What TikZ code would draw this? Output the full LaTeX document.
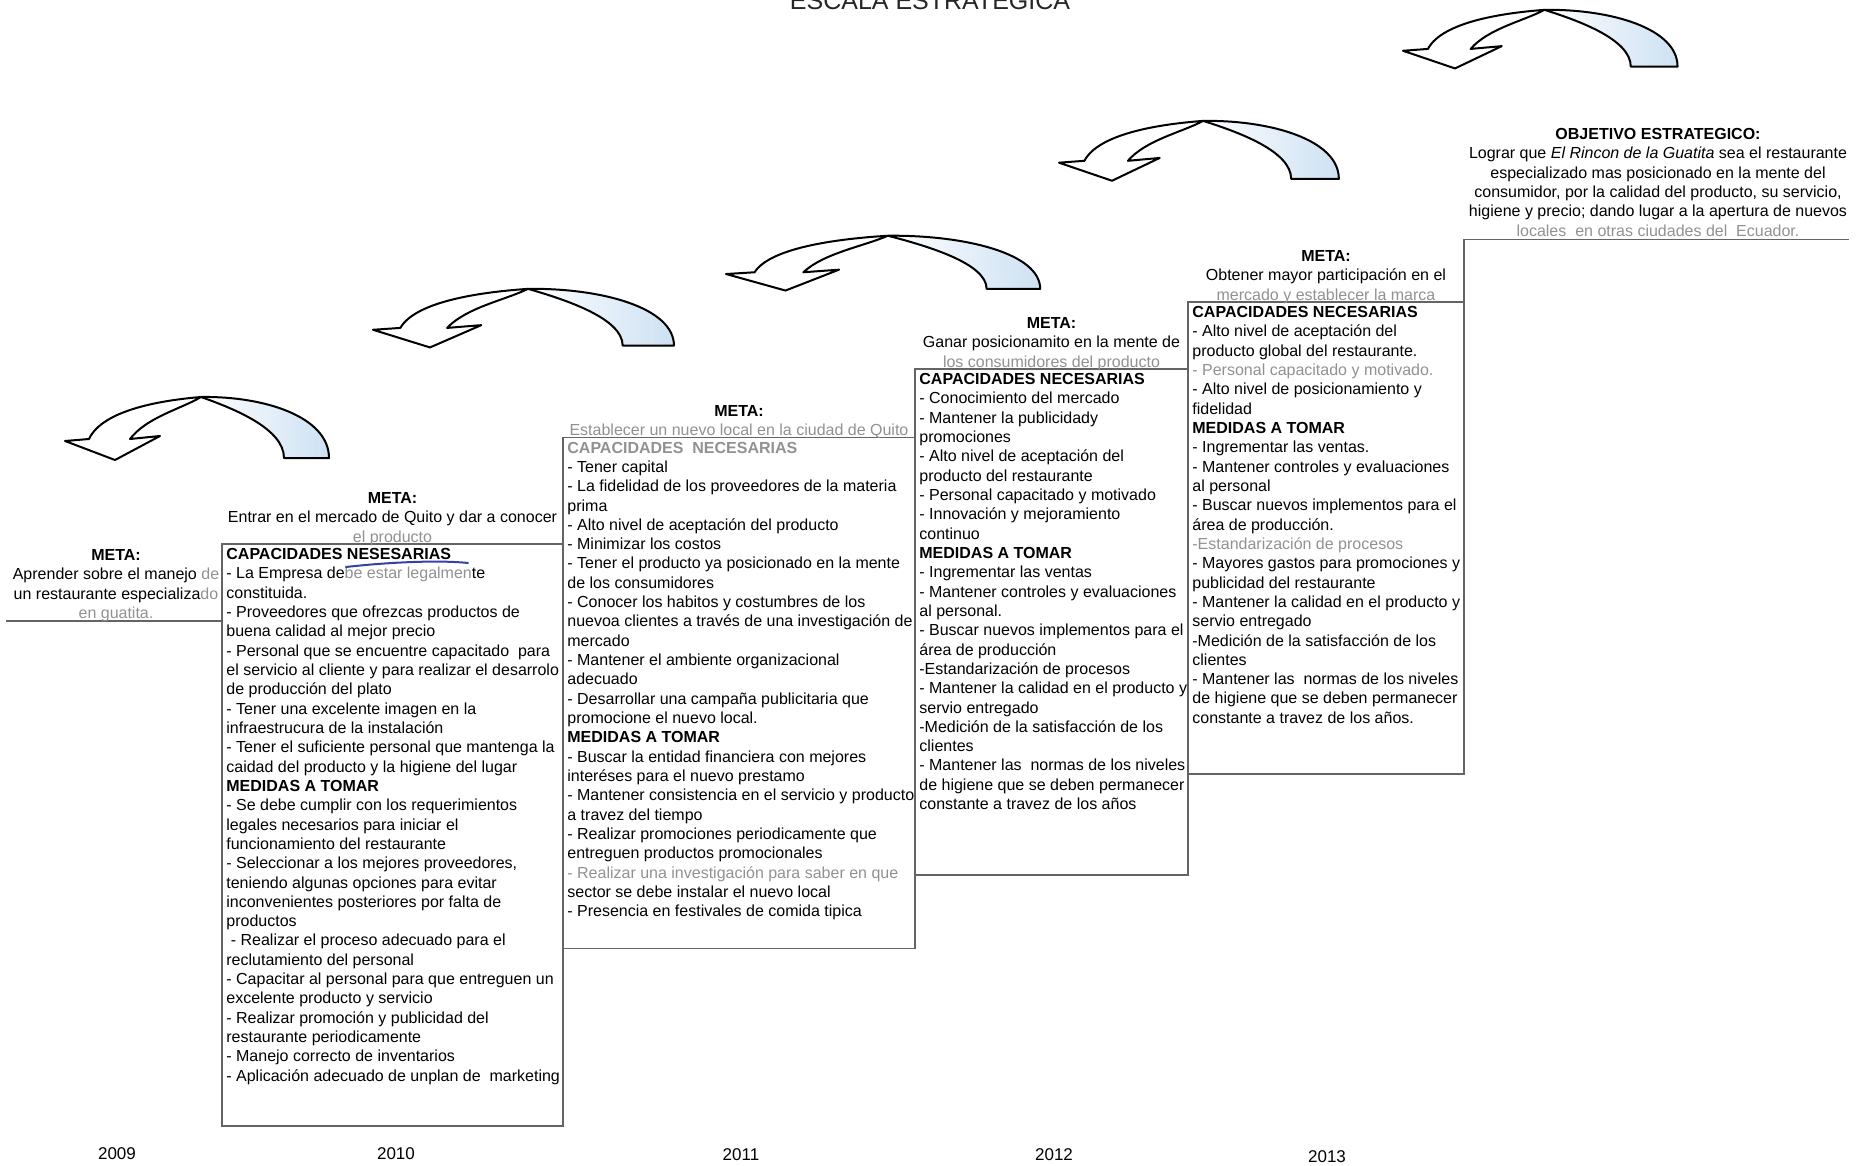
\documentclass[tikz,border=0pt]{standalone}
\usepackage{fontspec}
\setmainfont{Liberation Sans}
\usetikzlibrary{positioning}
\definecolor{gristxt}{RGB}{145,145,145}
\definecolor{borde}{RGB}{100,100,100}
\definecolor{azulflecha}{RGB}{205,225,243}
\definecolor{tinta}{RGB}{55,65,165}

\begin{document}
\begin{tikzpicture}[
    x=0.5pt, y=-0.5pt,
    caja/.style={draw=borde, line width=0.7pt, inner sep=0pt, outer sep=0pt},
    texto/.style={align=left, inner sep=0pt, font=\fontsize{8pt}{9.66pt}\selectfont},
    meta/.style={align=center, inner sep=0pt, font=\fontsize{8pt}{9.66pt}\selectfont},
    anio/.style={font=\fontsize{8.5pt}{10pt}\selectfont},
    linea/.style={draw=borde, line width=0.7pt},
    flecha/.pic={
        \shadedraw[draw=black, line width=1pt, line join=round, left color=white, right color=azulflecha]
            (136,2) .. controls (200,1) and (264,22) .. (264,63) -- (219,63)
            .. controls (219,34) and (170,14) .. (136,2) -- cycle;
        \filldraw[fill=white, draw=black, line width=1pt, line join=round]
            (24,44) .. controls (38,14) and (100,5) .. (136,2)
            .. controls (116,14) and (82,22) .. (65,44)
            -- (95,41) -- (50,65) -- (0,46) -- cycle;
    }
    ]
\useasboundingbox (0,0) rectangle (1859,1166);

\node[font=\fontsize{12.5pt}{14pt}\selectfont, anchor=base, text=black!85] (titulo) at (930,10) {ESCALA ESTRATEGICA};

\pic at (65,395) {flecha};
\pic[xscale=1.14, yscale=0.93] at (373,287) {flecha};
\pic[xscale=1.19, yscale=0.87] at (726,234) {flecha};
\pic[xscale=1.06, yscale=0.95] at (1059,119) {flecha};
\pic[xscale=1.04, yscale=0.93] at (1403,8) {flecha};

\node[caja, minimum width=170.5pt, minimum height=291pt] (caja2010) at (392.5,835) {};
\node[caja, minimum width=176pt, minimum height=255.5pt] (caja2011) at (739,693) {};
\node[caja, minimum width=136.5pt, minimum height=253pt] (caja2012) at (1051.5,622) {};
\node[caja, minimum width=138pt, minimum height=236pt] (caja2013) at (1326,538) {};

\coordinate (inicio) at (6,621);
\coordinate (finobj) at (1849,239.5);
\draw[linea] (inicio) -- (inicio -| caja2010.west);
\draw[linea] (caja2013.north east) |- (finobj);

\node[meta, anchor=north] (meta2009) at (116,549) {\textbf{META:}\\
    Aprender sobre el manejo {\color{gristxt}de}\\
    un restaurante especializa{\color{gristxt}do}\\
    {\color{gristxt}en guatita.}};

\node[meta, anchor=north] (meta2010) at ([yshift=26pt]caja2010.north) {\textbf{META:}\\
    Entrar en el mercado de Quito y dar a conocer\\
    {\color{gristxt}el producto}};
\node[texto, below right=2pt and 2pt of caja2010.north west] (texto2010) {\textbf{CAPACIDADES NESESARIAS}\\
    - La Empresa de{\color{gristxt}be estar legalmen}te\\
    constituida.\\
    - Proveedores que ofrezcas productos de\\
    buena calidad al mejor precio\\
    - Personal que se encuentre capacitado\ \ para\\
    el servicio al cliente y para realizar el desarrolo\\
    de producción del plato\\
    - Tener una excelente imagen en la\\
    infraestrucura de la instalación\\
    - Tener el suficiente personal que mantenga la\\
    caidad del producto y la higiene del lugar\\
    \textbf{MEDIDAS A TOMAR}\\
    - Se debe cumplir con los requerimientos\\
    legales necesarios para iniciar el\\
    funcionamiento del restaurante\\
    - Seleccionar a los mejores proveedores,\\
    teniendo algunas opciones para evitar\\
    inconvenientes posteriores por falta de\\
    productos\\
    \ - Realizar el proceso adecuado para el\\
    reclutamiento del personal\\
    - Capacitar al personal para que entreguen un\\
    excelente producto y servicio\\
    - Realizar promoción y publicidad del\\
    restaurante periodicamente\\
    - Manejo correcto de inventarios\\
    - Aplicación adecuado de unplan de\ \ marketing};
\draw[tinta, line width=1pt, line cap=round] (346,567) .. controls (390,562) and (440,560) .. (468,563);

\node[meta, anchor=north] (meta2011) at ([yshift=16.4pt]caja2011.north) {\textbf{META:}\\
    {\color{gristxt}Establecer un nuevo local en la ciudad de Quito}};
\node[texto, below right=2pt and 2pt of caja2011.north west] (texto2011) {{\color{gristxt}\textbf{CAPACIDADES\ \ NECESARIAS}}\\
    - Tener capital\\
    - La fidelidad de los proveedores de la materia\\
    prima\\
    - Alto nivel de aceptación del producto\\
    - Minimizar los costos\\
    - Tener el producto ya posicionado en la mente\\
    de los consumidores\\
    - Conocer los habitos y costumbres de los\\
    nuevoa clientes a través de una investigación de\\
    mercado\\
    - Mantener el ambiente organizacional\\
    adecuado\\
    - Desarrollar una campaña publicitaria que\\
    promocione el nuevo local.\\
    \textbf{MEDIDAS A TOMAR}\\
    - Buscar la entidad financiera con mejores\\
    interéses para el nuevo prestamo\\
    - Mantener consistencia en el servicio y producto\\
    a travez del tiempo\\
    - Realizar promociones periodicamente que\\
    entreguen productos promocionales\\
    {\color{gristxt}- Realizar una investigación para saber en que}\\
    sector se debe instalar el nuevo local\\
    - Presencia en festivales de comida tipica};

\node[meta, anchor=north] (meta2012) at ([yshift=26pt]caja2012.north) {\textbf{META:}\\
    Ganar posicionamito en la mente de\\
    {\color{gristxt}los consumidores del producto}};
\node[texto, below right=2pt and 2pt of caja2012.north west] (texto2012) {\textbf{CAPACIDADES NECESARIAS}\\
    - Conocimiento del mercado\\
    - Mantener la publicidady\\
    promociones\\
    - Alto nivel de aceptación del\\
    producto del restaurante\\
    - Personal capacitado y motivado\\
    - Innovación y mejoramiento\\
    continuo\\
    \textbf{MEDIDAS A TOMAR}\\
    - Ingrementar las ventas\\
    - Mantener controles y evaluaciones\\
    al personal.\\
    - Buscar nuevos implementos para el\\
    área de producción\\
    -Estandarización de procesos\\
    - Mantener la calidad en el producto y\\
    servio entregado\\
    -Medición de la satisfacción de los\\
    clientes\\
    - Mantener las\ \ normas de los niveles\\
    de higiene que se deben permanecer\\
    constante a travez de los años};

\node[meta, anchor=north] (meta2013) at ([yshift=26pt]caja2013.north) {\textbf{META:}\\
    Obtener mayor participación en el\\
    {\color{gristxt}mercado y establecer la marca}};
\node[texto, below right=2pt and 2pt of caja2013.north west] (texto2013) {\textbf{CAPACIDADES NECESARIAS}\\
    - Alto nivel de aceptación del\\
    producto global del restaurante.\\
    {\color{gristxt}- Personal capacitado y motivado.}\\
    - Alto nivel de posicionamiento y\\
    fidelidad\\
    \textbf{MEDIDAS A TOMAR}\\
    - Ingrementar las ventas.\\
    - Mantener controles y evaluaciones\\
    al personal\\
    - Buscar nuevos implementos para el\\
    área de producción.\\
    {\color{gristxt}-Estandarización de procesos}\\
    - Mayores gastos para promociones y\\
    publicidad del restaurante\\
    - Mantener la calidad en el producto y\\
    servio entregado\\
    -Medición de la satisfacción de los\\
    clientes\\
    - Mantener las\ \ normas de los niveles\\
    de higiene que se deben permanecer\\
    constante a travez de los años.};

\node[meta, anchor=north] (objetivo) at (1658,128) {\textbf{OBJETIVO ESTRATEGICO:}\\
    Lograr que \textit{El Rincon de la Guatita} sea el restaurante\\
    especializado mas posicionado en la mente del\\
    consumidor, por la calidad del producto, su servicio,\\
    higiene y precio; dando lugar a la apertura de nuevos\\
    {\color{gristxt}locales\ \ en otras ciudades del\ \ Ecuador.}};

\node[anio] (anio2009) at (117,1154) {2009};
\node[anio] (anio2010) at (396,1154) {2010};
\node[anio] (anio2011) at (741,1155) {2011};
\node[anio] (anio2012) at (1054,1155) {2012};
\node[anio] (anio2013) at (1327,1157) {2013};
\end{tikzpicture}
\end{document}
